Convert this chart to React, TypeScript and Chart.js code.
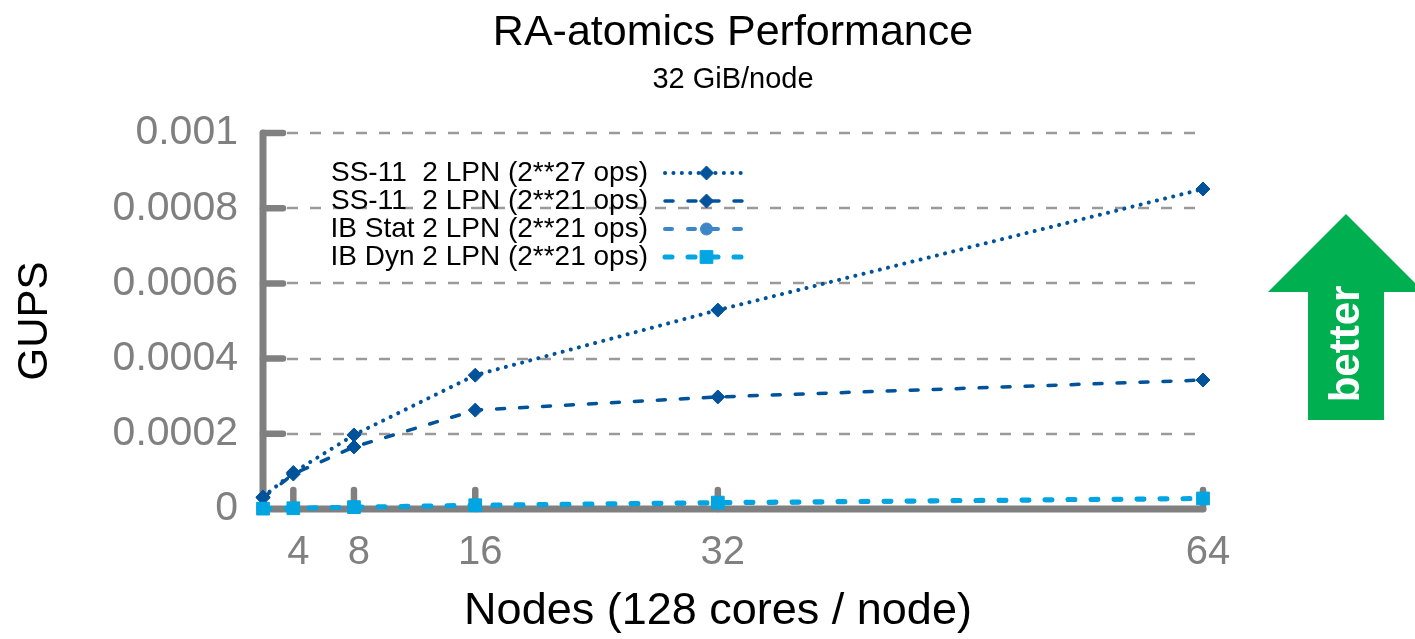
import { useEffect, useRef } from 'react';
import { Chart, registerables } from 'chart.js';

Chart.register(...registerables);

const FONT = '"Liberation Sans", Arial, Helvetica, sans-serif';

const nodes = [2, 4, 8, 16, 32, 64];
const xTickValues = [4, 8, 16, 32, 64];
const yTickValues = [0, 0.0002, 0.0004, 0.0006, 0.0008, 0.001];

const ss11Ops27 = [0.000032, 0.000097, 0.000197, 0.000356, 0.000529, 0.000851];
const ss11Ops21 = [0.00003, 0.000093, 0.000165, 0.000263, 0.000298, 0.000343];
const ibStatOps21 = [0.000001, 0.000002, 0.000004, 0.000009, 0.000015, 0.000027];
const ibDynOps21 = [0.000001, 0.000002, 0.000005, 0.00001, 0.000017, 0.000028];

const seriesLabels = [
  'SS-11  2 LPN (2**27 ops)',
  'SS-11  2 LPN (2**21 ops)',
  'IB Stat 2 LPN (2**21 ops)',
  'IB Dyn 2 LPN (2**21 ops)',
];

const titleText = 'RA-atomics Performance';
const subtitleText = '32 GiB/node';
const xTitle = 'Nodes (128 cores / node)';
const yTitle = 'GUPS';
const arrowText = 'better';

const AXIS_GRAY = '#808080';
const GRID_GRAY = '#9a9a9a';

function toPoints(vals: number[]) {
  return nodes.map((n, i) => ({ x: n, y: vals[i] }));
}

function drawMarker(ctx: CanvasRenderingContext2D, style: string, x: number, y: number, r: number, color: string) {
  ctx.save();
  ctx.setLineDash([]);
  ctx.fillStyle = color;
  ctx.strokeStyle = color;
  ctx.lineWidth = 1;
  ctx.beginPath();
  if (style === 'rectRot') {
    ctx.moveTo(x, y - r);
    ctx.lineTo(x + r, y);
    ctx.lineTo(x, y + r);
    ctx.lineTo(x - r, y);
    ctx.closePath();
  } else if (style === 'rect') {
    const s = r * Math.SQRT1_2;
    ctx.rect(x - s, y - s, 2 * s, 2 * s);
  } else {
    ctx.arc(x, y, r, 0, Math.PI * 2);
  }
  ctx.fill();
  ctx.stroke();
  ctx.restore();
}

const decorPlugin = {
  id: 'decor',
  beforeDatasetsDraw(chart: any) {
    const { ctx, chartArea, scales } = chart;
    const { left, right, top, bottom } = chartArea;
    const x = scales.x;
    const y = scales.y;
    ctx.save();
    // dashed grid
    ctx.strokeStyle = GRID_GRAY;
    ctx.lineWidth = 2.5;
    ctx.setLineDash([11, 12]);
    ctx.lineCap = 'butt';
    for (const v of yTickValues) {
      if (v === 0) continue;
      const py = Math.round(y.getPixelForValue(v));
      ctx.beginPath();
      ctx.moveTo(left + 24, py);
      ctx.lineTo(right, py);
      ctx.stroke();
    }
    // axes
    ctx.setLineDash([]);
    ctx.strokeStyle = AXIS_GRAY;
    ctx.lineWidth = 7;
    ctx.lineCap = 'round';
    ctx.lineJoin = 'round';
    ctx.beginPath();
    ctx.moveTo(left, top);
    ctx.lineTo(left, bottom);
    ctx.lineTo(right, bottom);
    ctx.stroke();
    ctx.lineWidth = 6.5;
    for (const v of yTickValues) {
      if (v === 0) continue;
      const py = y.getPixelForValue(v);
      ctx.beginPath();
      ctx.moveTo(left, py);
      ctx.lineTo(left + 20, py);
      ctx.stroke();
    }
    for (const v of xTickValues) {
      const px = x.getPixelForValue(v);
      ctx.beginPath();
      ctx.moveTo(px, bottom);
      ctx.lineTo(px, bottom - 19);
      ctx.stroke();
    }
    ctx.restore();
  },
  afterDraw(chart: any) {
    const { ctx, chartArea } = chart;
    const cx = (chartArea.left + chartArea.right) / 2;
    ctx.save();
    // titles
    ctx.fillStyle = '#000';
    ctx.textAlign = 'center';
    ctx.textBaseline = 'middle';
    ctx.font = `43px ${FONT}`;
    ctx.fillText(titleText, cx, 33);
    ctx.font = `29px ${FONT}`;
    ctx.fillText(subtitleText, cx, 80);

    // x axis title
    ctx.font = `45px ${FONT}`;
    ctx.fillText(xTitle, cx - 15, 612);

    // legend
    const datasets = chart.data.datasets;
    const textRight = 648;
    const lineStart = 665;
    const lineEnd = 748;
    datasets.forEach((ds: any, i: number) => {
      const rowY = 173 + i * 28;
      ctx.fillStyle = '#000';
      ctx.textAlign = 'right';
      ctx.textBaseline = 'middle';
      ctx.font = `28px ${FONT}`;
      ctx.fillText(ds.label, textRight, rowY);
      ctx.save();
      ctx.strokeStyle = ds.borderColor;
      ctx.lineWidth = ds.borderWidth;
      ctx.lineCap = ds.borderCapStyle || 'butt';
      ctx.setLineDash(ds.borderDash || []);
      ctx.beginPath();
      ctx.moveTo(lineStart, rowY);
      ctx.lineTo(lineEnd, rowY);
      ctx.stroke();
      ctx.restore();
      drawMarker(ctx, ds.pointStyle, (lineStart + lineEnd) / 2, rowY, ds.pointRadius, ds.borderColor);
    });

    // green "better" arrow
    ctx.fillStyle = '#00b050';
    ctx.beginPath();
    ctx.moveTo(1308, 420);
    ctx.lineTo(1308, 292);
    ctx.lineTo(1268, 292);
    ctx.lineTo(1346, 214);
    ctx.lineTo(1424, 292);
    ctx.lineTo(1384, 292);
    ctx.lineTo(1384, 420);
    ctx.closePath();
    ctx.fill();
    ctx.translate(1347, 344);
    ctx.rotate(-Math.PI / 2);
    ctx.fillStyle = '#fff';
    ctx.textAlign = 'center';
    ctx.textBaseline = 'middle';
    ctx.font = `bold 42px ${FONT}`;
    ctx.fillText(arrowText, 0, 0);
    ctx.restore();
  },
};

export default function App() {
  const canvasRef = useRef<HTMLCanvasElement | null>(null);

  useEffect(() => {
    const canvas = canvasRef.current;
    if (!canvas) return;
    Chart.defaults.font.family = FONT;
    const chart = new Chart(canvas, {
      type: 'line',
      data: {
        datasets: [
          {
            label: seriesLabels[0],
            data: toPoints(ss11Ops27),
            borderColor: '#00539b',
            backgroundColor: '#00539b',
            borderWidth: 4,
            borderDash: [0.1, 8.3],
            borderCapStyle: 'round',
            pointStyle: 'rectRot',
            pointRadius: 7,
            pointBorderWidth: 1,
            pointBackgroundColor: '#00539b',
            order: 3,
            clip: false,
          },
          {
            label: seriesLabels[1],
            data: toPoints(ss11Ops21),
            borderColor: '#00539b',
            backgroundColor: '#00539b',
            borderWidth: 3.5,
            borderDash: [8, 15],
            borderCapStyle: 'round',
            pointStyle: 'rectRot',
            pointRadius: 7,
            pointBorderWidth: 1,
            pointBackgroundColor: '#00539b',
            order: 2,
            clip: false,
          },
          {
            label: seriesLabels[2],
            data: toPoints(ibStatOps21),
            borderColor: '#3d86c8',
            backgroundColor: '#3d86c8',
            borderWidth: 4,
            borderDash: [7, 16],
            borderCapStyle: 'round',
            pointStyle: 'circle',
            pointRadius: 6,
            pointBorderWidth: 1,
            pointBackgroundColor: '#3d86c8',
            order: 1,
            clip: false,
          },
          {
            label: seriesLabels[3],
            data: toPoints(ibDynOps21),
            borderColor: '#00a5e1',
            backgroundColor: '#00a5e1',
            borderWidth: 5,
            borderDash: [7, 16],
            borderCapStyle: 'round',
            pointStyle: 'rect',
            pointRadius: 9,
            pointBorderWidth: 1,
            pointBackgroundColor: '#00a5e1',
            order: 0,
            clip: false,
          },
        ],
      } as any,
      options: {
        animation: false,
        responsive: false,
        maintainAspectRatio: false,
        layout: { padding: { top: 133, right: 212, left: 0, bottom: 0 } },
        plugins: {
          legend: { display: false },
          title: { display: false },
          tooltip: { enabled: false },
        },
        scales: {
          x: {
            type: 'linear',
            min: 2,
            max: 64,
            afterBuildTicks: (s: any) => {
              s.ticks = xTickValues.map((v) => ({ value: v }));
            },
            afterFit: (s: any) => {
              s.height = 130;
            },
            grid: { display: false, drawTicks: false },
            border: { display: false },
            ticks: {
              autoSkip: false,
              maxRotation: 0,
              padding: 20,
              labelOffset: 5,
              color: AXIS_GRAY,
              font: { family: FONT, size: 40 },
              callback: (v: any) => String(v),
            },
            title: { display: false },
          },
          y: {
            type: 'linear',
            min: 0,
            max: 0.001,
            afterBuildTicks: (s: any) => {
              s.ticks = yTickValues.map((v) => ({ value: v }));
            },
            afterFit: (s: any) => {
              s.width = 263;
            },
            grid: { display: false, drawTicks: false },
            border: { display: false },
            ticks: {
              padding: 25,
              color: AXIS_GRAY,
              font: { family: FONT, size: 41 },
              callback: (v: any) => String(Math.round(Number(v) * 1e4) / 1e4),
            },
            title: {
              display: true,
              text: yTitle,
              color: '#000',
              font: { family: FONT, size: 42 },
              padding: { top: 10, bottom: 0 },
            },
          },
        },
      } as any,
      plugins: [decorPlugin],
    });
    return () => chart.destroy();
  }, []);

  return (
    <div style={{ position: 'absolute', left: 0, top: 0, width: 1415, height: 639, background: '#fff' }}>
      <canvas ref={canvasRef} width={1415} height={639} style={{ display: 'block', width: 1415, height: 639 }} />
    </div>
  );
}
